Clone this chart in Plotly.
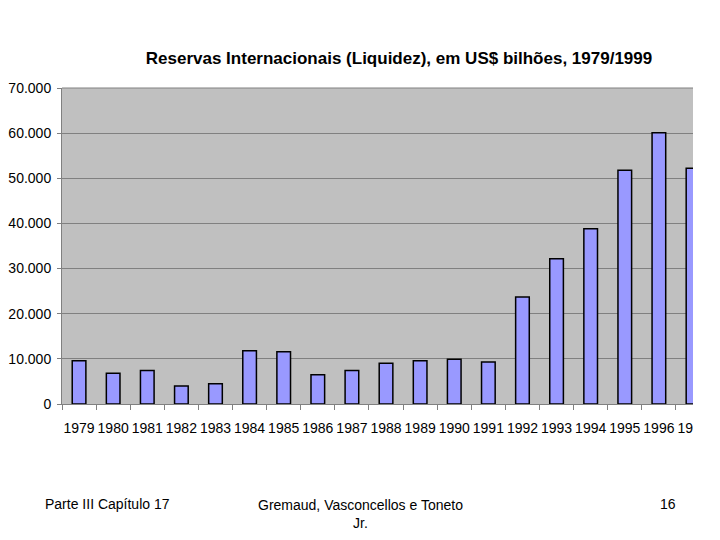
import plotly.graph_objects as go

years = [str(y) for y in range(1979, 1998)]
reserves = [9600, 6800, 7400, 4000, 4500, 11800, 11600, 6500, 7400, 9000,
            9600, 9900, 9300, 23700, 32200, 38800, 51800, 60100, 52200]
y_ticks = [0, 10000, 20000, 30000, 40000, 50000, 60000, 70000]

title_text = "Reservas Internacionais (Liquidez), em US$ bilhões, 1979/1999"
footer_left = "Parte III Capítulo 17"
footer_mid = "Gremaud, Vasconcellos e Toneto<br>Jr."
footer_right = "16"

FONT = "Liberation Sans, Arial, sans-serif"

fig = go.Figure()
fig.add_trace(go.Bar(
    x=years, y=reserves, width=0.4,
    marker=dict(color="#9999FF", line=dict(color="black", width=1.5)),
    showlegend=False,
))

fig.update_layout(
    width=720, height=540,
    margin=dict(l=62, r=27, t=88, b=136, autoexpand=False),
    paper_bgcolor="white",
    plot_bgcolor="#C0C0C0",
    separators=",.",
    font=dict(family=FONT, color="black"),
    title=dict(text="<b>" + title_text + "</b>", x=399 / 720, xanchor="center",
               y=1 - 58 / 540, yanchor="middle",
               font=dict(family=FONT, size=17, color="black")),
    bargap=0.6,
)

fig.update_xaxes(
    type="category", range=[-0.5, 18.0], automargin=False,
    showline=True, linecolor="#808080", linewidth=1,
    ticks="outside", tickson="boundaries", ticklen=5, tickcolor="#808080",
    showgrid=False, tickangle=0,
    tickfont=dict(size=14, family=FONT, color="black"),
    ticklabelstandoff=11,
)
fig.update_yaxes(
    range=[0, 70000], tickvals=y_ticks, tickformat=",d", automargin=False,
    showline=True, linecolor="#808080", linewidth=1,
    ticks="outside", ticklen=4, tickcolor="#808080",
    showgrid=True, gridcolor="#808080", gridwidth=1,
    zeroline=False, tickfont=dict(size=14, family=FONT, color="black"),
    ticklabelstandoff=3,
)

# top border of the plot area
fig.add_shape(type="line", xref="paper", yref="paper", x0=0, x1=1, y0=1, y1=1,
              line=dict(color="#808080", width=1))
# clip last tick label at the chart edge
fig.add_shape(type="rect", xref="paper", yref="paper", x0=1.0, x1=1.2,
              y0=-0.25, y1=-0.015, fillcolor="white", line=dict(width=0),
              layer="above")

fig.add_annotation(text=footer_left, xref="paper", yref="paper",
                   x=(43 - 62) / 631, xanchor="left",
                   y=-(504 - 404) / 316, yanchor="middle", showarrow=False,
                   font=dict(size=14, family=FONT, color="black"))
fig.add_annotation(text=footer_mid, xref="paper", yref="paper",
                   x=(360 - 62) / 631, xanchor="center",
                   y=-(495 - 404) / 316, yanchor="top", showarrow=False,
                   font=dict(size=14, family=FONT, color="black"))
fig.add_annotation(text=footer_right, xref="paper", yref="paper",
                   x=(668 - 62) / 631, xanchor="center",
                   y=-(504 - 404) / 316, yanchor="middle", showarrow=False,
                   font=dict(size=14, family=FONT, color="black"))

fig.write_html("out.html")
